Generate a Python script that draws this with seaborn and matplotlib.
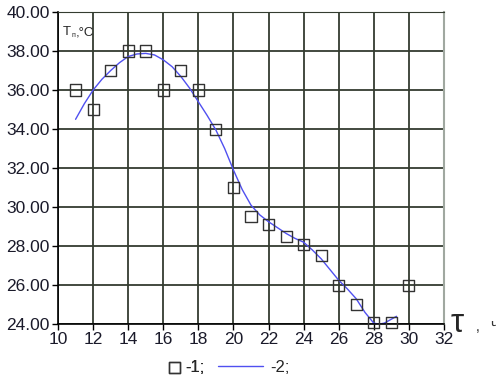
import matplotlib
matplotlib.use("Agg")
import matplotlib.pyplot as plt
import seaborn as sns
import pandas as pd

# measured points (series 1)
tau_meas = [11, 12, 13, 14, 15, 16, 17, 18, 19, 20, 21, 22, 23, 24, 25, 26, 27, 28, 29, 30]
temp_meas = [36.0, 35.0, 37.0, 38.0, 38.0, 36.0, 37.0, 36.0, 34.0, 31.0,
             29.5, 29.1, 28.5, 28.1, 27.5, 26.0, 25.0, 24.1, 24.1, 26.0]

# smoothed curve (series 2)
tau_fit = [11, 11.5, 12, 12.5, 13, 13.5, 14, 14.5, 15, 15.5, 16, 16.5, 17, 17.5,
           18, 18.5, 19, 19.5, 20, 20.5, 21, 21.5, 22, 22.5, 23, 23.5, 24, 24.5,
           25, 25.5, 26, 26.5, 27, 27.5, 28, 28.3, 28.6, 29, 29.3]
temp_fit = [34.5, 35.3, 36.0, 36.55, 37.0, 37.4, 37.72, 37.85, 37.88, 37.8, 37.55,
            37.2, 36.7, 36.1, 35.4, 34.7, 33.95, 33.0, 31.9, 30.9, 30.1, 29.6,
            29.25, 28.95, 28.65, 28.4, 28.2, 27.8, 27.35, 26.8, 26.25, 25.8, 25.3,
            24.6, 24.05, 24.0, 24.05, 24.25, 24.4]

x_ticks = list(range(10, 34, 2))
y_ticks = list(range(24, 42, 2))

df_meas = pd.DataFrame({"tau": tau_meas, "T": temp_meas})
df_fit = pd.DataFrame({"tau": tau_fit, "T": temp_fit})

sns.set_style("white")
plt.rcParams["font.family"] = ["Liberation Sans", "DejaVu Sans"]

fig = plt.figure(figsize=(4.96, 3.76), dpi=100)
ax = fig.add_axes([0.117, 0.138, 0.778, 0.83])

sns.lineplot(data=df_fit, x="tau", y="T", ax=ax, color="#5050f0", lw=1.0,
             label="-2;", sort=False)
sns.scatterplot(data=df_meas, x="tau", y="T", ax=ax, marker="s", s=64,
                facecolors="none", edgecolor="#333333", linewidth=1.0,
                label="-1;", zorder=3, clip_on=False)

ax.set_xlim(10, 32)
ax.set_ylim(24, 40)
ax.set_xticks(x_ticks)
ax.set_yticks(y_ticks)
ax.set_yticklabels([f"{v:.2f}" for v in y_ticks])
ax.tick_params(axis="both", labelsize=12.5, length=4, width=1, color="black",
               labelcolor="#1a1a2a", direction="out", pad=2, left=True, bottom=True)
ax.set_xlabel("")
ax.set_ylabel("")

ax.grid(True, color="#343c30", lw=1.3)
for side in ["left", "bottom"]:
    ax.spines[side].set_color("black")
    ax.spines[side].set_linewidth(1.2)
ax.spines["top"].set_color("#343c30")
ax.spines["right"].set_color("#a0a8a0")
ax.spines["right"].set_linewidth(1.5)

ax.text(0.012, 0.935, "T", transform=ax.transAxes, fontsize=9.5, va="center")
ax.text(0.034, 0.925, "п", transform=ax.transAxes, fontsize=5, va="center")
ax.text(0.047, 0.935, ",°C", transform=ax.transAxes, fontsize=9.5, va="center")

fig.text(0.908, 0.14, "τ", fontsize=24, va="center")
fig.text(0.96, 0.13, ",", fontsize=10, va="center")
fig.text(0.988, 0.135, "ч", fontsize=10, va="center", color="#333")

handles, labels = ax.get_legend_handles_labels()
ax.get_legend().remove()
leg1 = fig.legend([handles[1]], [labels[1]], frameon=False, loc="center",
                  bbox_to_anchor=(0.375, 0.022), fontsize=12, handlelength=0.8,
                  handletextpad=0.25, borderpad=0)
fig.legend([handles[0]], [labels[0]], frameon=False, loc="center",
           bbox_to_anchor=(0.512, 0.022), fontsize=12, handlelength=2.7,
           handletextpad=0.45, borderpad=0)
fig.add_artist(leg1)

fig.savefig("out.png", dpi=100)
